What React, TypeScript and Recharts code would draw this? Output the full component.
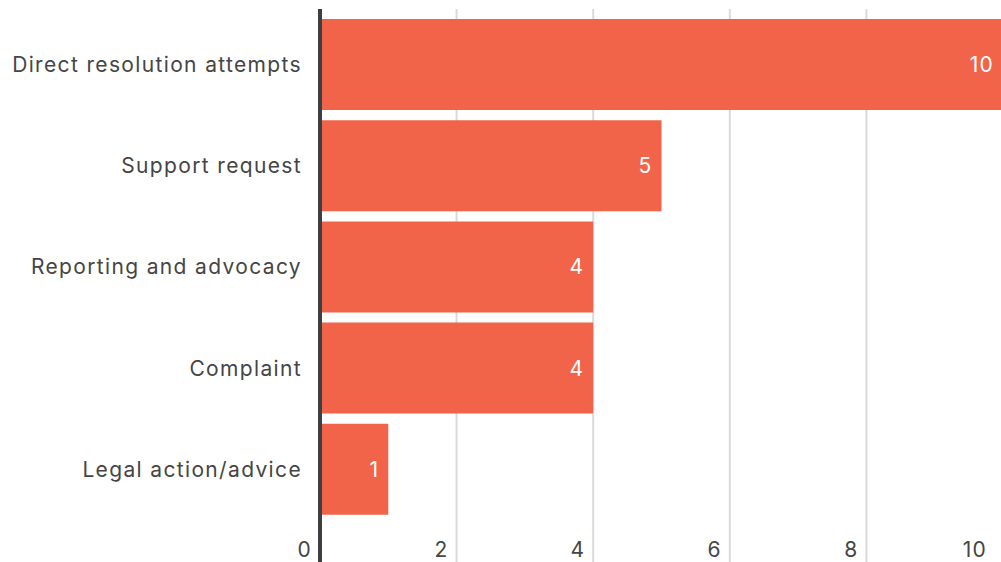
import { Bar, BarChart, CartesianGrid, LabelList, XAxis, YAxis } from "recharts"

// Categories and counts, top to bottom
const categories = [
  "Direct resolution attempts",
  "Support request",
  "Reporting and advocacy",
  "Complaint",
  "Legal action/advice",
]
const counts = [10, 5, 4, 4, 1]
const xTicks = [0, 2, 4, 6, 8, 10]

const data = categories.map((name, i) => ({ name, value: counts[i] }))

const FONT = "Inter, 'Noto Sans', sans-serif"
const TEXT = "#454545"

const XTick = (props: any) => {
  const { x, payload } = props
  return (
    <text x={x - 8} y={557} textAnchor="end" fill={TEXT} fontSize={21} fontFamily={FONT} letterSpacing={1.2}>
      {payload.value}
    </text>
  )
}

export default function App() {
  return (
    <div style={{ position: "absolute", left: 0, top: 0, width: 1001, height: 562, overflow: "hidden", background: "#fff" }}>
      <BarChart
        width={1003}
        height={592}
        data={data}
        layout="vertical"
        margin={{ top: 9, right: 0, bottom: 0, left: 0 }}
      >
        <CartesianGrid horizontal={false} stroke="#dadada" strokeWidth={2} />
        <XAxis
          type="number"
          domain={[0, 10]}
          ticks={xTicks}
          axisLine={false}
          tickLine={false}
          height={30}
          tick={<XTick />}
        />
        <YAxis
          type="category"
          dataKey="name"
          width={320}
          padding={{ top: 5, bottom: 42 }}
          axisLine={{ stroke: "#3c4043", strokeWidth: 4 }}
          tickLine={false}
          tickSize={0}
          tickMargin={18}
          tick={{ fill: TEXT, fontSize: 21, fontFamily: FONT, letterSpacing: 1.35 }}
        />
        <Bar dataKey="value" fill="#f2644a" barSize={91} isAnimationActive={false}>
          <LabelList
            dataKey="value"
            position="insideRight"
            offset={9}
            fill="#ffffff"
            fontSize={21}
            fontFamily={FONT}
            letterSpacing={1.2}
          />
        </Bar>
      </BarChart>
    </div>
  )
}
